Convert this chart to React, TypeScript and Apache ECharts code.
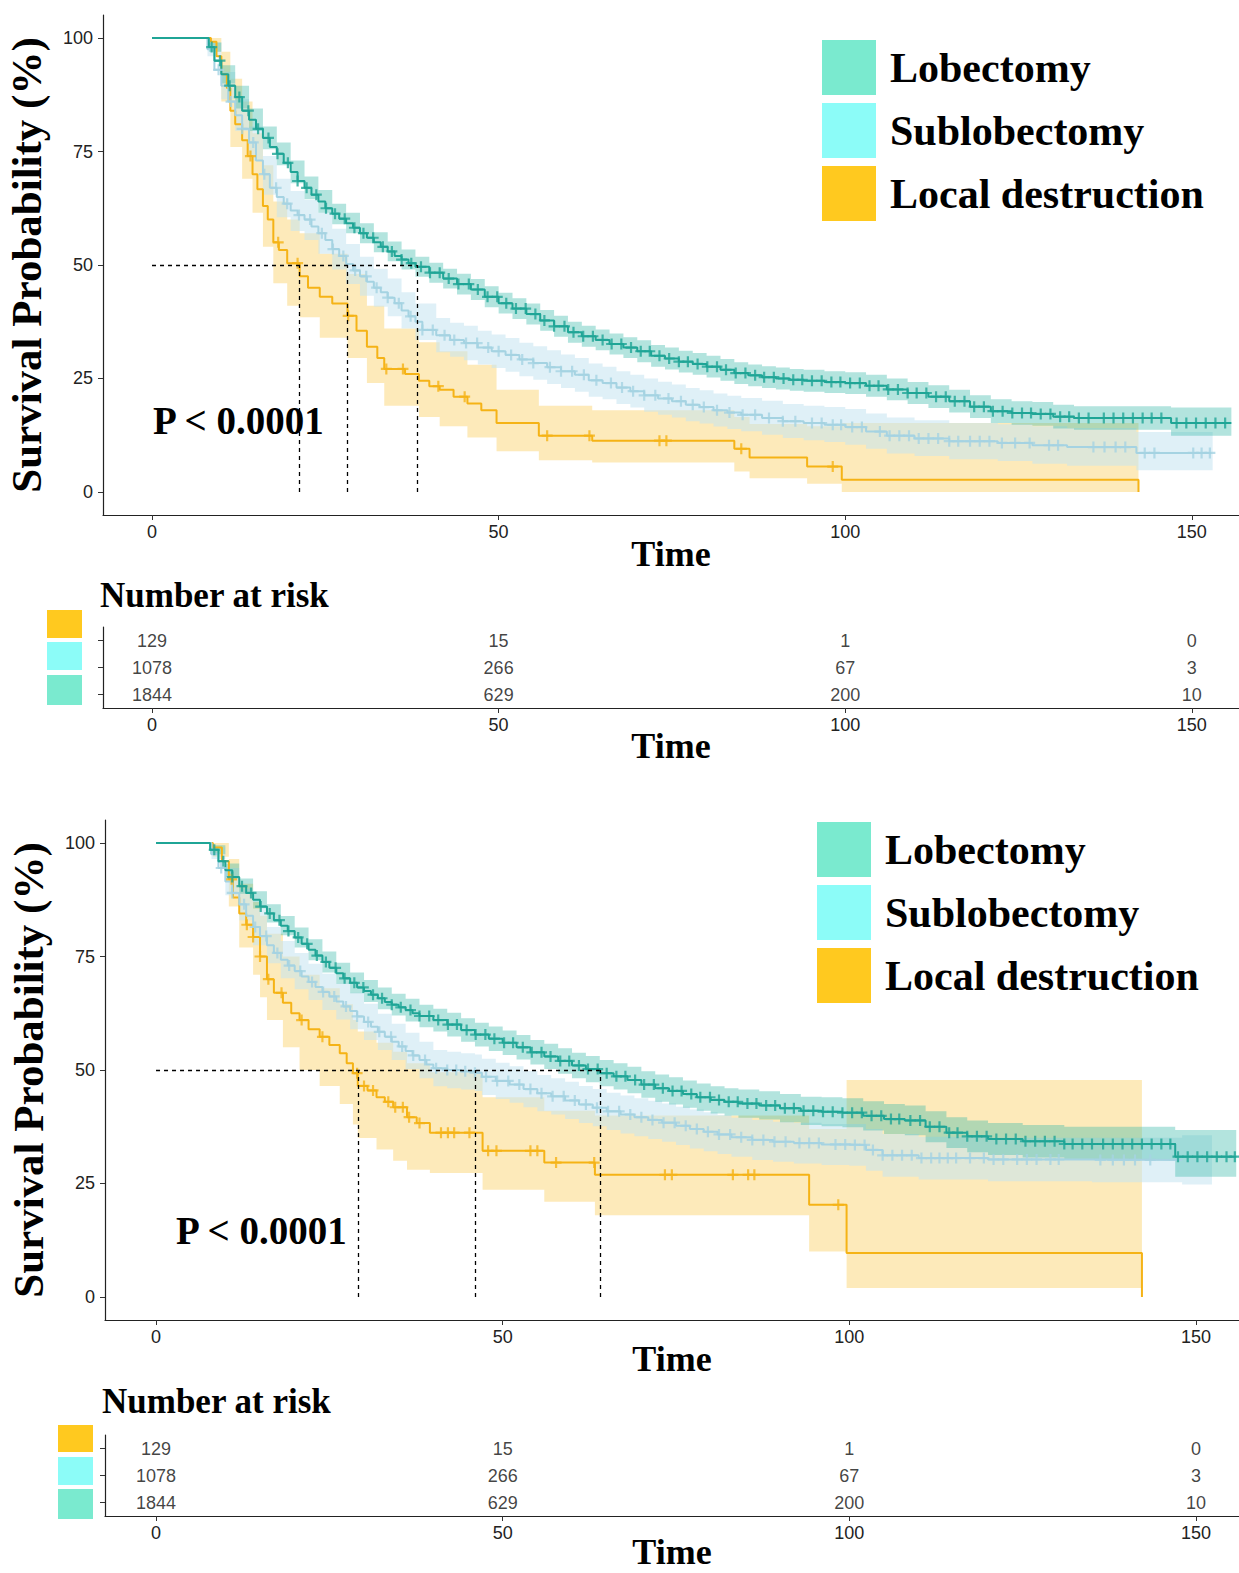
import React, { useEffect, useRef } from "react";
import * as echarts from "echarts";

const SERIF = "'Liberation Serif', 'Times New Roman', serif";
const SANS = "'Liberation Sans', Arial, sans-serif";

const GROUPS = ["Lobectomy", "Sublobectomy", "Local destruction"];
const LEGEND_COLORS = ["#7AEACF", "#8CFCF8", "#FFC91F"];
const LINE_COLORS = ["#1FA596", "#A5D3E2", "#F5B316"];
const BAND_COLORS = ["#38B7A9", "#C5E3F1", "#FAD165"];
const BAND_OPACITY = [0.38, 0.55, 0.45];

const TIME_TICKS = [0, 50, 100, 150];
const SURV_TICKS = [0, 25, 50, 75, 100];

// Number at risk (same in both panels)
const RISK_LOB = [1844, 629, 200, 10];
const RISK_SUB = [1078, 266, 67, 3];
const RISK_LOC = [129, 15, 1, 0];

// ---------------- TOP PANEL ----------------
// [time, survival %] ; last row marks the end of the curve
const TOP_LOB = [
  [0, 100], [8.2, 98], [9, 95], [10, 92], [11, 89.5], [12, 87], [13, 84], [14, 82], [15, 80], [16, 78],
  [17, 76], [18, 74.5], [19, 72.5], [20, 70.5], [21, 68.5], [22, 67], [23, 65.5], [24, 64], [25, 62.5],
  [26, 61.3], [27, 60.2], [28, 59.2], [29, 58.2], [30, 57], [31, 56], [32, 55], [33, 54], [34, 53], [35, 52],
  [36, 51.2], [37, 50.4], [38, 49.6], [40, 48.3], [42, 47], [44, 45.8], [46, 44.6], [48, 43], [50, 41.6],
  [52, 40.4], [54, 39.2], [56, 37.8], [58, 36.5], [60, 35.2], [62, 34.3], [64, 33.5], [66, 32.6], [68, 31.8],
  [70, 31], [72, 30], [74, 29.4], [76, 28.7], [78, 28.2], [80, 27.6], [82, 26.9], [84, 26.2], [86, 25.7],
  [88, 25.3], [90, 25], [92, 24.7], [94, 24.5], [97, 24.2], [100, 24], [103, 23.4], [106, 22.6], [109, 21.8],
  [112, 21], [115, 20], [118, 18.8], [121, 17.8], [124, 17.4], [127, 17.2], [130, 16.6], [133, 16.3],
  [147, 15.2], [155.7, 15.2],
];
const TOP_SUB = [
  [0, 100], [8, 97.5], [9, 93], [10, 89.5], [11, 86], [12, 83], [13, 80], [14, 77], [15, 73], [16, 70],
  [17, 67], [18, 65], [19, 63.5], [20, 62], [21, 61], [22, 60], [23, 58.5], [24, 57], [25, 55.5], [26, 53.5],
  [27, 52], [28, 50.2], [29, 48.8], [30, 47.5], [31, 46.3], [32, 45], [33, 44], [34, 42.8], [35, 41.6],
  [36, 40], [37, 38.7], [38, 37.5], [39, 35.7], [41, 34.5], [43, 33.5], [45, 32.8], [47, 31.8], [49, 31],
  [51, 30.2], [53, 29.2], [55, 28.4], [57, 27.5], [59, 26.6], [61, 25.8], [63, 24.6], [65, 24], [67, 23],
  [69, 22.2], [71, 21.3], [73, 20.6], [75, 20], [77, 19.2], [79, 18.7], [81, 18], [83, 17.5], [85, 17],
  [88, 16.3], [91, 15.6], [94, 15.2], [97, 14.8], [100, 14.3], [103, 13.3], [106, 12.4], [110, 11.8],
  [115, 11.2], [122, 10.8], [127, 10.3], [132, 9.9], [142, 8.6], [152.8, 8.6],
];
const TOP_LOC = [
  [0, 100], [8.5, 99.2], [9.3, 96], [10, 92], [10.8, 89], [11.3, 84], [12, 81], [13, 77.5], [13.8, 74],
  [14.5, 70], [15.2, 66.7], [16, 63], [16.7, 60], [17.5, 55], [18.3, 53.3], [19.5, 50.4], [21.3, 47.5],
  [22.5, 45], [24.2, 43], [26, 41.5], [28.2, 38.8], [29.5, 35.5], [31, 32], [32.5, 29.5], [33.5, 27.1],
  [36.5, 26], [38.5, 24.5], [40, 23.3], [41.5, 22.5], [43.5, 21], [45.5, 19.5], [47.5, 18], [49.7, 15.2],
  [55.8, 12.4], [63.5, 11.3], [84, 9.5], [86.2, 7.6], [94.5, 5.6], [99.5, 2.7], [142.3, 0],
];
// [time, lower, upper] ; last row marks the end of the band
const TOP_LOB_CI = [
  [0, 100, 100], [8.2, 97, 99], [10, 90, 94], [12, 84.5, 89.5], [14, 79.5, 84.5], [16, 75.5, 80.5],
  [18, 72, 77], [20, 68, 73], [22, 64.5, 69.5], [24, 61.5, 66.5], [26, 59, 63.5], [28, 57, 61.5],
  [30, 54.8, 59.2], [32, 52.8, 57.2], [34, 50.8, 55.2], [36, 49, 53.4], [38, 47.4, 51.8], [40, 46.1, 50.5],
  [42, 44.8, 49.2], [44, 43.5, 48.1], [46, 42.3, 46.9], [48, 40.7, 45.3], [50, 39.3, 43.9], [52, 38.1, 42.7],
  [54, 36.9, 41.5], [56, 35.5, 40.1], [58, 34.2, 38.8], [60, 32.9, 37.5], [62, 32, 36.6], [64, 31.2, 35.8],
  [66, 30.3, 34.9], [68, 29.5, 34.1], [70, 28.6, 33.4], [72, 27.6, 32.4], [74, 27, 31.8], [76, 26.3, 31.1],
  [78, 25.8, 30.6], [80, 25.2, 30], [82, 24.5, 29.3], [84, 23.8, 28.6], [86, 23.3, 28.1], [88, 22.9, 27.7],
  [90, 22.6, 27.4], [92, 22.3, 27.1], [94, 22.1, 26.9], [97, 21.8, 26.6], [100, 21.6, 26.4], [103, 21, 25.8],
  [106, 20.2, 25], [109, 19.4, 24.2], [112, 18.5, 23.5], [115, 17.5, 22.5], [118, 16.3, 21.3],
  [121, 15.2, 20.4], [124, 14.8, 20], [127, 14.6, 19.8], [130, 14, 19.2], [133, 13.7, 18.9],
  [147, 12.4, 18.6], [155.7, 12.4, 18.6],
];
const TOP_SUB_CI = [
  [0, 100, 100], [8, 96, 99], [10, 86.5, 92.5], [12, 79.5, 86.5], [14, 73, 80.5], [16, 65.5, 74],
  [18, 60.5, 69], [20, 57.5, 66.3], [22, 55.5, 64.3], [24, 52.5, 61.5], [26, 49, 58], [28, 45.8, 54.6],
  [30, 43.2, 51.8], [32, 40.8, 49.2], [34, 38.7, 47], [36, 36, 44], [38, 33.5, 41.5], [41, 30.8, 38.3],
  [43, 29.8, 37.3], [45, 29, 36.6], [47, 28.1, 35.5], [49, 27.3, 34.7], [51, 26.5, 33.9], [53, 25.5, 32.9],
  [55, 24.7, 32.1], [57, 23.8, 31.2], [59, 22.9, 30.3], [61, 22.1, 29.5], [63, 21, 28.3], [65, 20.4, 27.6],
  [67, 19.4, 26.6], [69, 18.6, 25.8], [71, 17.7, 25], [73, 17, 24.3], [75, 16.4, 23.7], [77, 15.6, 22.9],
  [79, 15.1, 22.4], [81, 14.4, 21.7], [83, 13.9, 21.2], [85, 13.4, 20.7], [88, 12.6, 20.1], [91, 11.9, 19.4],
  [94, 11.4, 19], [97, 11, 18.7], [100, 10.4, 18.3], [103, 9.5, 17.3], [106, 8.5, 16.4], [110, 7.9, 15.8],
  [115, 7.2, 15.2], [122, 6.8, 14.9], [127, 6.2, 14.5], [132, 5.8, 14.1], [142, 4.8, 13.2], [153, 4.8, 13.2],
];
const TOP_LOC_CI = [
  [0, 100, 100], [8.5, 97, 100], [10, 86, 97], [11.3, 76, 91], [13, 69, 86], [14.5, 61.5, 79], [16, 54, 72],
  [17.5, 46, 64], [19.5, 41, 60], [21.3, 38.5, 57], [24.2, 34, 52.5], [28.2, 29.5, 48], [31, 24, 41],
  [33.5, 19, 36], [38.5, 16.5, 33], [41.5, 14.5, 31], [45.5, 12, 28], [49.7, 9, 22.5], [55.8, 7, 19],
  [63.5, 6.5, 18], [84, 4.5, 16.5], [86.2, 3, 15], [94.5, 1.8, 14.5], [99.5, 0, 15.2], [142.3, 0, 15.2],
];
const TOP_LOB_CENSOR = [
  8.6, 9.8, 11.2, 12.6, 13.9, 15.3, 16.8, 18.1, 19.6, 21.0, 22.3, 23.7, 25.1, 26.4, 27.8, 29.2, 30.5, 31.9,
  33.3, 34.6, 36.0, 37.4, 38.8, 40.1, 41.5, 42.8, 44.2, 45.7, 47.0, 48.4, 49.8, 51.1, 52.5, 53.9, 55.3, 56.6,
  58.0, 59.5, 60.8, 62.2, 63.6, 65.0, 66.3, 67.7, 69.1, 70.5, 71.8, 73.2, 74.6, 76.0, 77.3, 78.7, 80.1, 81.5,
  82.8, 84.2, 85.6, 87.0, 88.3, 89.7, 91.1, 92.5, 93.8, 95.2, 96.6, 98.0, 99.3, 100.7, 102.1, 103.5, 104.8,
  106.2, 107.6, 109.0, 110.3, 111.7, 113.1, 114.5, 115.8, 117.2, 118.6, 120.0, 121.3, 122.7, 124.1, 125.5,
  126.8, 128.2, 129.6, 131.0, 132.3, 133.7, 135.1, 137.3, 138.7, 140.1, 141.5, 142.9, 144.2, 145.6, 147.8,
  149.2, 150.6, 152.0, 153.4, 154.8,
];
const TOP_SUB_CENSOR = [
  9.6, 11.4, 13.0, 14.6, 16.2, 17.9, 19.5, 21.2, 22.8, 24.5, 26.1, 27.6, 29.3, 30.9, 32.4, 34.0, 35.6, 37.3,
  39.0, 40.5, 42.2, 43.6, 45.3, 46.9, 48.5, 50.0, 51.8, 53.4, 55.0, 57.4, 59.0, 60.6, 62.3, 64.1, 66.2, 67.8,
  69.4, 71.0, 72.6, 74.5, 76.3, 78.0, 79.6, 81.5, 83.3, 85.2, 87.0, 89.0, 91.0, 92.8, 95.2, 96.6, 98.2, 99.4,
  101.0, 102.4, 105.0, 106.4, 107.8, 109.2, 110.6, 112.0, 113.4, 115.0, 116.3, 118.0, 119.4, 120.8, 122.6,
  124.5, 126.6, 129.4, 130.7, 135.8, 137.4, 139.0, 140.4, 143.2, 144.6, 150.2, 151.4, 152.6,
];
const TOP_LOC_CENSOR = [14.2, 18.2, 21.0, 28.3, 33.8, 36.2, 41.3, 45.1, 57.0, 63.1, 73.2, 74.2, 85.0, 98.2];
const TOP_MEDIANS = [21.3, 28.1, 38.2];

// ---------------- BOTTOM PANEL ----------------
const BOT_LOB = [
  [0, 100], [7.8, 98.5], [9, 96], [10, 94], [11, 92.5], [12, 90.5], [13, 89], [14, 87.5], [15, 86], [16, 84.5],
  [17, 83], [18, 81.8], [19, 80.6], [20, 79.2], [21, 77.8], [22, 76.5], [23, 75.2], [24, 73.8], [25, 72.5],
  [26, 71.3], [27, 70.2], [28, 69.2], [29, 68.2], [30, 67.4], [31, 66.6], [32, 65.8], [33, 65], [34, 64.4],
  [35, 63.8], [36, 63.2], [37, 62.5], [38, 61.9], [40, 61], [42, 60], [44, 58.8], [46, 57.8], [48, 56.9],
  [50, 56], [52, 55], [54, 53.9], [56, 53], [58, 52], [60, 51], [62, 50.2], [64, 49.3], [66, 48.6], [68, 47.8],
  [70, 46.8], [72, 46], [74, 45.4], [76, 44.7], [78, 44], [80, 43.4], [82, 43], [84, 42.6], [87, 42.2],
  [90, 41.6], [93, 41], [96, 40.8], [99, 40.6], [102, 39.9], [105, 39.2], [108, 38.9], [111, 37.5],
  [114, 36.2], [117, 35.4], [120, 34.8], [125, 34.3], [131, 33.7], [147, 30.9], [155.8, 30.9],
];
const BOT_SUB = [
  [0, 100], [8, 97.5], [9, 94.5], [10, 91.5], [11, 89], [12, 86.5], [13, 84], [14, 81.5], [15, 79.5],
  [16, 77.5], [17, 75.8], [18, 74.3], [19, 73], [20, 71.8], [21, 70.6], [22, 69.4], [23, 68.3], [24, 67.2],
  [25, 66.2], [26, 65.1], [27, 64], [28, 63], [29, 61.8], [30, 60.6], [31, 59.5], [32, 58.4], [33, 57.3],
  [34, 56.2], [35, 55.2], [36, 54.2], [37, 53.2], [38, 52.2], [39, 51.2], [40, 50.4], [42, 50], [44, 49.7],
  [46, 49.4], [47, 48.5], [49, 47.6], [51, 46.8], [53, 45.8], [55, 44.9], [57, 44.2], [59, 43.3], [61, 42.4],
  [63, 41.7], [65, 40.9], [67, 40.2], [69, 39.6], [71, 39], [73, 38.4], [75, 37.7], [77, 37], [79, 36.4],
  [81, 35.8], [83, 35.2], [86, 34.6], [89, 34.2], [92, 33.9], [96, 33.6], [100, 33.5], [102.4, 32.4],
  [104.8, 31.2], [110, 30.6], [120, 30.3], [135, 30.2], [148, 30.2],
];
const BOT_LOC = [
  [0, 100], [8.2, 99], [9.5, 96], [10.5, 92], [11.1, 88], [12, 84.5], [13, 82], [14, 79.3], [15, 75],
  [16, 70], [17, 67], [18.3, 64.8], [19.5, 62.5], [20.7, 61], [22, 59], [23.6, 57.3], [25, 55.5],
  [26.5, 53.7], [27.5, 51.5], [28.4, 49.3], [29.1, 46.5], [30.5, 45.5], [31.8, 44], [33, 43], [34.2, 41.8],
  [36.2, 39.6], [37.6, 38.3], [39.5, 36.2], [47.1, 32.2], [56, 29.6], [63.3, 26.9], [94.2, 20.3],
  [99.6, 9.7], [142.2, 0],
];
const BOT_LOB_CI = [
  [0, 100, 100], [7.8, 97.5, 99.5], [10, 92.5, 95.5], [12, 88.8, 92.2], [14, 85.6, 89.4], [16, 82.5, 86.5],
  [18, 79.7, 83.9], [20, 77, 81.4], [22, 74.2, 78.8], [24, 71.5, 76.1], [26, 69, 73.6], [28, 66.9, 71.5],
  [30, 65, 69.8], [32, 63.4, 68.2], [34, 62, 66.8], [36, 60.7, 65.7], [38, 59.4, 64.4], [40, 58.5, 63.5],
  [42, 57.4, 62.6], [44, 56.2, 61.4], [46, 55.2, 60.4], [48, 54.2, 59.6], [50, 53.3, 58.7], [52, 52.3, 57.7],
  [54, 51.2, 56.6], [56, 50.2, 55.8], [58, 49.2, 54.8], [60, 48.2, 53.8], [62, 47.3, 53.1], [64, 46.4, 52.2],
  [66, 45.7, 51.5], [68, 44.9, 50.7], [70, 43.9, 49.7], [72, 43, 49], [74, 42.4, 48.4], [76, 41.7, 47.7],
  [78, 41, 47], [80, 40.4, 46.4], [82, 40, 46], [84, 39.5, 45.7], [87, 39.1, 45.3], [90, 38.5, 44.7],
  [93, 37.9, 44.1], [96, 37.6, 44], [99, 37.4, 43.8], [102, 36.7, 43.1], [105, 35.9, 42.5], [108, 35.6, 42.2],
  [111, 34.1, 40.9], [114, 32.8, 39.6], [117, 31.9, 38.9], [120, 31.3, 38.3], [125, 30.7, 37.9],
  [131, 30.3, 37.5], [147, 26.5, 36.8], [155.8, 26.5, 36.8],
];
const BOT_SUB_CI = [
  [0, 100, 100], [8, 96.5, 99], [10, 88.5, 94.5], [12, 83, 90], [14, 77.5, 85.5], [16, 73.5, 81.5],
  [18, 70.2, 78.4], [20, 67.8, 75.8], [22, 65.4, 73.4], [24, 63.2, 71.2], [26, 61.1, 69.1], [28, 59, 67],
  [30, 56.6, 64.6], [32, 54.4, 62.4], [34, 52.2, 60.2], [36, 50.2, 58.2], [38, 48.2, 56.2], [40, 46.4, 54.4],
  [42, 46, 54], [44, 45.7, 53.7], [46, 45.4, 53.4], [47, 44.5, 52.5], [49, 43.6, 51.6], [51, 42.8, 50.8],
  [53, 41.8, 49.8], [55, 40.9, 48.9], [57, 40.2, 48.2], [59, 39.2, 47.4], [61, 38.3, 46.5], [63, 37.6, 45.8],
  [65, 36.8, 45], [67, 36, 44.4], [69, 35.4, 43.8], [71, 34.8, 43.2], [73, 34.2, 42.6], [75, 33.5, 41.9],
  [77, 32.7, 41.3], [79, 32.1, 40.7], [81, 31.5, 40.1], [83, 30.9, 39.5], [86, 30.2, 39], [89, 29.8, 38.6],
  [92, 29.4, 38.4], [96, 29.1, 38.1], [100, 28.9, 38.1], [102.4, 27.8, 37], [104.8, 26.5, 35.9],
  [110, 25.9, 35.3], [120, 25.5, 35.1], [135, 25.3, 35.1], [148, 24.8, 35.6], [152.3, 24.8, 35.6],
];
const BOT_LOC_CI = [
  [0, 100, 100], [8.2, 97, 100], [10.5, 86, 96.5], [12, 77, 91], [14, 71, 87], [15, 66, 84], [16, 61, 80],
  [18.3, 55, 75], [20.7, 50, 71], [23.6, 46.5, 68], [26.5, 42.5, 64.5], [28.4, 38, 61], [29.1, 35, 58.5],
  [31.8, 32.5, 56], [34.2, 30, 54], [36.2, 28, 51.5], [39.5, 27.3, 49.5], [47.1, 23.6, 44], [56, 21, 41],
  [63.3, 18, 40], [94.2, 10, 37], [99.6, 2, 47.8], [142.2, 2, 47.8],
];
const BOT_LOB_CENSOR = [
  8.4, 9.7, 11.0, 12.4, 13.7, 15.1, 16.4, 17.8, 19.1, 20.5, 21.8, 23.2, 24.5, 25.9, 27.2, 28.6, 29.9, 31.3,
  32.6, 34.0, 35.3, 36.7, 38.0, 39.4, 40.7, 42.1, 43.4, 44.8, 46.1, 47.5, 48.8, 50.2, 51.5, 52.9, 54.2, 55.6,
  56.9, 58.3, 59.6, 61.0, 62.3, 63.7, 65.0, 66.4, 67.7, 69.1, 70.4, 71.8, 73.1, 74.5, 75.8, 77.2, 78.5, 79.9,
  81.2, 82.6, 83.9, 85.3, 86.6, 88.0, 89.3, 90.7, 92.0, 93.4, 94.8, 96.2, 97.6, 99.0, 100.4, 101.8, 103.2,
  104.6, 106.0, 107.2, 108.8, 110.2, 111.6, 113.0, 114.4, 115.6, 117.0, 118.4, 119.8, 121.2, 122.6, 124.0,
  125.4, 126.8, 128.2, 129.6, 131.0, 132.2, 133.6, 135.0, 136.6, 138.0, 139.4, 140.8, 142.2, 143.6, 145.0,
  146.3, 147.4, 148.8, 150.2, 151.6, 153.0, 154.4, 155.6,
];
const BOT_SUB_CENSOR = [
  9.4, 11.0, 12.7, 14.3, 15.9, 17.5, 19.2, 20.8, 22.5, 24.1, 25.7, 27.4, 29.0, 30.6, 32.2, 33.9, 35.5, 37.1,
  38.8, 40.4, 42.0, 43.3, 44.6, 46.0, 47.6, 49.2, 50.8, 52.4, 54.0, 55.6, 57.2, 58.8, 60.4, 62.0, 63.6, 65.2,
  66.8, 68.4, 70.0, 71.6, 73.2, 74.8, 76.4, 78.0, 79.6, 81.2, 82.8, 84.4, 86.0, 87.6, 89.2, 90.8, 92.8, 94.2,
  95.6, 98.0, 99.4, 100.8, 102.2, 103.4, 104.8, 106.2, 107.6, 109.0, 110.4, 111.8, 113.0, 114.2, 115.4,
  117.4, 119.4, 120.8, 122.2, 124.2, 125.6, 127.0, 129.0, 130.2, 136.2, 138.0, 139.6, 141.2, 143.4,
];
const BOT_LOC_CENSOR = [
  10.9, 13.1, 14.0, 15.0, 16.2, 18.1, 21.0, 24.0, 29.0, 30.0, 31.3, 33.5, 34.5, 35.6, 36.5, 38.0, 41.1,
  42.1, 43.0, 45.2, 47.9, 49.1, 54.0, 55.0, 57.7, 63.2, 73.4, 74.4, 83.2, 85.4, 86.3, 98.4,
];
const BOT_MEDIANS = [29.1, 46.1, 64.0];

const PLUS = "path://M4,0 H6 V4 H10 V6 H6 V10 H4 V6 H0 V4 H4 Z";

function survAt(curve: number[][], t: number): number {
  let v = curve[0][1];
  for (const [ti, si] of curve) {
    if (ti <= t) v = si;
    else break;
  }
  return v;
}

function bandSeries(band: number[][], gi: number, axis: number) {
  return {
    type: "custom",
    name: GROUPS[gi],
    xAxisIndex: axis,
    yAxisIndex: axis,
    silent: true,
    z: 1,
    data: [[0, 0]],
    itemStyle: { color: LEGEND_COLORS[gi] },
    renderItem: (_params: any, api: any) => {
      const upper: number[][] = [];
      const lower: number[][] = [];
      for (let i = 0; i < band.length - 1; i++) {
        const t0 = band[i][0];
        const t1 = band[i + 1][0];
        upper.push(api.coord([t0, band[i][2]]), api.coord([t1, band[i][2]]));
        lower.push(api.coord([t0, band[i][1]]), api.coord([t1, band[i][1]]));
      }
      const pts = upper.concat(lower.reverse());
      return {
        type: "polygon",
        shape: { points: pts },
        style: { fill: BAND_COLORS[gi], opacity: BAND_OPACITY[gi] },
      };
    },
  };
}

function curveSeries(curve: number[][], gi: number, axis: number) {
  return {
    type: "line",
    name: GROUPS[gi] + " curve",
    xAxisIndex: axis,
    yAxisIndex: axis,
    step: "end",
    showSymbol: false,
    symbol: "none",
    silent: true,
    z: 3,
    lineStyle: { color: LINE_COLORS[gi], width: 2 },
    data: curve,
  };
}

function censorSeries(curve: number[][], times: number[], gi: number, axis: number) {
  return {
    type: "scatter",
    name: GROUPS[gi] + " censor",
    xAxisIndex: axis,
    yAxisIndex: axis,
    symbol: PLUS,
    symbolSize: 11,
    silent: true,
    z: 4,
    itemStyle: { color: LINE_COLORS[gi] },
    data: times.map((t) => [t, survAt(curve, t)]),
  };
}

function medianSeries(medians: number[], axis: number) {
  const maxM = Math.max(...medians);
  const data = [{ coords: [[0, 50], [maxM, 50]] }].concat(
    medians.map((m) => ({ coords: [[m, 0], [m, 50]] }))
  );
  return {
    type: "lines",
    coordinateSystem: "cartesian2d",
    xAxisIndex: axis,
    yAxisIndex: axis,
    silent: true,
    z: 5,
    lineStyle: { color: "#000", width: 1.3, type: [4, 4], opacity: 1 },
    data,
  };
}

function riskSeries(axis: number) {
  const rows = [RISK_LOB, RISK_SUB, RISK_LOC];
  const data: any[] = [];
  rows.forEach((row, ri) => row.forEach((n, ti) => data.push([TIME_TICKS[ti], ri, n])));
  return {
    type: "scatter",
    xAxisIndex: axis,
    yAxisIndex: axis,
    symbolSize: 1,
    silent: true,
    itemStyle: { color: "rgba(0,0,0,0)" },
    label: {
      show: true,
      position: "inside",
      formatter: (p: any) => String(p.value[2]),
      fontFamily: SANS,
      fontSize: 18,
      color: "#111",
    },
    data,
  };
}

const axisLine = { show: true, onZero: false, lineStyle: { color: "#222", width: 1.2 } };

function xAxis(grid: number, min: number, max: number, gap: number) {
  return {
    type: "value",
    gridIndex: grid,
    min,
    max,
    axisLine,
    axisTick: { show: true, length: 5, customValues: TIME_TICKS, lineStyle: { color: "#333" } },
    axisLabel: { customValues: TIME_TICKS, fontFamily: SANS, fontSize: 18, color: "#222", margin: 8 },
    splitLine: { show: false },
    name: "Time",
    nameLocation: "middle",
    nameGap: gap,
    nameMoveOverlap: false,
    nameTextStyle: { fontFamily: SERIF, fontWeight: "bold", fontSize: 36, color: "#000" },
  };
}

function kmYAxis(grid: number) {
  return {
    type: "value",
    gridIndex: grid,
    min: -5.07,
    max: 105.07,
    axisLine,
    axisTick: { show: true, length: 5, customValues: SURV_TICKS, lineStyle: { color: "#333" } },
    axisLabel: { customValues: SURV_TICKS, fontFamily: SANS, fontSize: 18, color: "#222", margin: 10 },
    splitLine: { show: false },
    name: "Survival Probability (%)",
    nameLocation: "middle",
    nameRotate: 90,
    nameGap: 55,
    nameTextStyle: { fontFamily: SERIF, fontWeight: "bold", fontSize: 43, color: "#000" },
  };
}

function riskYAxis(grid: number) {
  return {
    type: "category",
    gridIndex: grid,
    data: GROUPS,
    axisLine,
    axisTick: { show: true, length: 5, alignWithLabel: true, lineStyle: { color: "#333" } },
    axisLabel: { show: false },
    splitLine: { show: false },
  };
}

function legend(left: number, top: number) {
  return {
    left,
    top,
    orient: "vertical",
    itemWidth: 54,
    itemHeight: 55,
    itemGap: 8,
    icon: "rect",
    selectedMode: false,
    data: GROUPS.map((g, i) => ({ name: g, itemStyle: { color: LEGEND_COLORS[i], borderWidth: 0 } })),
    textStyle: { fontFamily: SERIF, fontWeight: "bold", fontSize: 42, color: "#000", padding: [0, 0, 0, 9] },
  };
}

function boxes(x: number, ys: number[], hs: number[]) {
  const colors = [LEGEND_COLORS[2], LEGEND_COLORS[1], LEGEND_COLORS[0]];
  return ys.map((y, i) => ({
    type: "rect",
    left: x,
    top: y,
    shape: { width: 35, height: hs[i] },
    style: { fill: colors[i] },
  }));
}

function buildOption() {
  const panels = [
    { axis: 0, curves: [TOP_LOB, TOP_SUB, TOP_LOC], bands: [TOP_LOB_CI, TOP_SUB_CI, TOP_LOC_CI], censors: [TOP_LOB_CENSOR, TOP_SUB_CENSOR, TOP_LOC_CENSOR], medians: TOP_MEDIANS },
    { axis: 2, curves: [BOT_LOB, BOT_SUB, BOT_LOC], bands: [BOT_LOB_CI, BOT_SUB_CI, BOT_LOC_CI], censors: [BOT_LOB_CENSOR, BOT_SUB_CENSOR, BOT_LOC_CENSOR], medians: BOT_MEDIANS },
  ];
  const series: any[] = [];
  const order = [2, 1, 0];
  panels.forEach((p) => {
    order.forEach((gi) => series.push(bandSeries(p.bands[gi], gi, p.axis)));
    order.forEach((gi) => series.push(curveSeries(p.curves[gi], gi, p.axis)));
    order.forEach((gi) => series.push(censorSeries(p.curves[gi], p.censors[gi], gi, p.axis)));
    series.push(medianSeries(p.medians, p.axis));
  });
  series.push(riskSeries(1));
  series.push(riskSeries(3));

  const boldSerif = (size: number) => `bold ${size}px ${SERIF}`;
  const g = (left: number, top: number, width: number, height: number) => ({
    left, top, width, height, outerBoundsMode: "none", containLabel: false,
  });

  return {
    animation: false,
    backgroundColor: "#ffffff",
    grid: [
      g(103, 15, 1136, 500),
      g(103, 627, 1136, 81),
      g(105, 820, 1134, 500),
      g(105, 1435, 1134, 81),
    ],
    xAxis: [
      xAxis(0, -7.07, 156.8, 21),
      xAxis(1, -7.07, 156.8, 20),
      xAxis(2, -7.36, 156.2, 21),
      xAxis(3, -7.36, 156.2, 18),
    ],
    yAxis: [kmYAxis(0), riskYAxis(1), kmYAxis(2), riskYAxis(3)],
    legend: [legend(817, 35), legend(812, 817)],
    graphic: [
      { type: "text", left: 153, top: 401, style: { text: "P < 0.0001", font: boldSerif(39), fill: "#000" } },
      { type: "text", left: 176, top: 1211, style: { text: "P < 0.0001", font: boldSerif(39), fill: "#000" } },
      { type: "text", left: 100, top: 578, style: { text: "Number at risk", font: boldSerif(35), fill: "#000" } },
      { type: "text", left: 102, top: 1384, style: { text: "Number at risk", font: boldSerif(35), fill: "#000" } },
      ...boxes(47, [610, 642, 675], [28, 28, 30]),
      ...boxes(58, [1425, 1457, 1489], [27, 28, 30]),
    ],
    series,
  };
}

export default function App() {
  const ref = useRef<HTMLDivElement>(null);
  useEffect(() => {
    if (!ref.current) return;
    const chart = echarts.init(ref.current, null, { renderer: "svg" });
    chart.setOption(buildOption() as any);
    return () => chart.dispose();
  }, []);
  return (
    <div
      ref={ref}
      style={{ position: "absolute", left: 0, top: 0, width: 1239, height: 1573, background: "#fff" }}
    />
  );
}
